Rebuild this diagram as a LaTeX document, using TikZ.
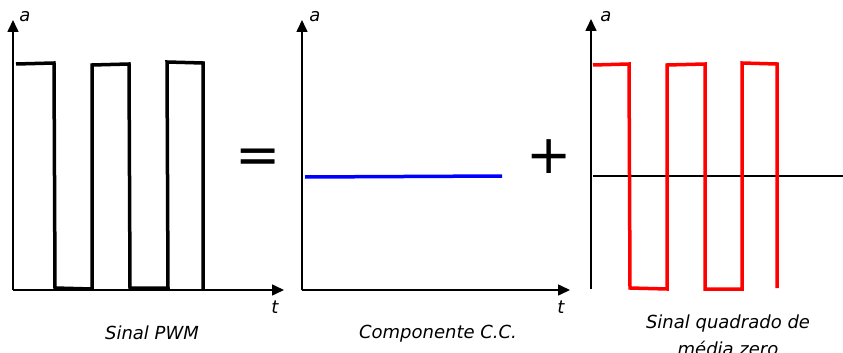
\documentclass[tikz,border=0pt]{standalone}
\usepackage{fontspec}
\setmainfont{DejaVu Sans}
\usetikzlibrary{arrows.meta}
\begin{document}
\begin{tikzpicture}[x=1pt,y=-1pt,
  axis/.style={line width=1.6pt,-{Triangle[length=12pt,width=11pt]}},
  plainaxis/.style={line width=1.6pt},
  sig/.style={line width=3.5pt,line join=miter},
  lbl/.style={font=\fontsize{18}{21}\selectfont\itshape,inner sep=0pt},
  op/.style={font=\fontsize{54}{58}\selectfont,inner sep=0pt}]
\useasboundingbox (0,0) rectangle (843,353);
% panel 1
\coordinate (o1) at (13,290);
\coordinate (y1) at (13,20);
\coordinate (x1) at (284,290);
\draw[axis] (o1) -- (y1);
\draw[axis] (o1) -- (x1);
\node[lbl] (a1) at (25,17) {a};
\node[lbl] (t1) at (275,307) {t};
\draw[sig] (16,64) -- (54,63) -- (55,288) -- (92,289) -- (92,65) -- (129,64) -- (130,288) -- (168,288) -- (167,62) -- (203,63) -- (203,289);
\node[lbl] (c1) at (152,333) {Sinal PWM};
\node[op] (eq) at (258,161) {=};
% panel 2
\coordinate (o2) at (302,290);
\coordinate (y2) at (302,20);
\coordinate (x2) at (570,290);
\draw[axis] (o2) -- (y2);
\draw[axis] (o2) -- (x2);
\node[lbl] (a2) at (315,17) {a};
\node[lbl] (t2) at (561,307) {t};
\coordinate (b1) at (305,177);
\coordinate (b2) at (502,176);
\draw[line width=3.5pt,blue] (b1) -- (b2);
\node[lbl] (c2) at (438,334) {Componente C.C.};
\node[op] (pl) at (549,157) {+};
% panel 3
\coordinate (o3) at (591,289);
\coordinate (y3) at (591,19);
\draw[axis] (o3) -- (y3);
\coordinate (h1) at (593,176);
\coordinate (h2) at (843,176);
\draw[plainaxis] (h1) -- (h2);
\node[lbl] (a3) at (606,17) {a};
\draw[sig,red] (593,65) -- (629,64) -- (630,288) -- (667,289) -- (667,65) -- (705,64) -- (705,289) -- (742,289) -- (742,63) -- (777,64) -- (777,288);
\node[lbl] (c3a) at (728,324) {Sinal quadrado de};
\node[lbl] (c3b) at (728,348) {média zero};
\end{tikzpicture}
\end{document}
